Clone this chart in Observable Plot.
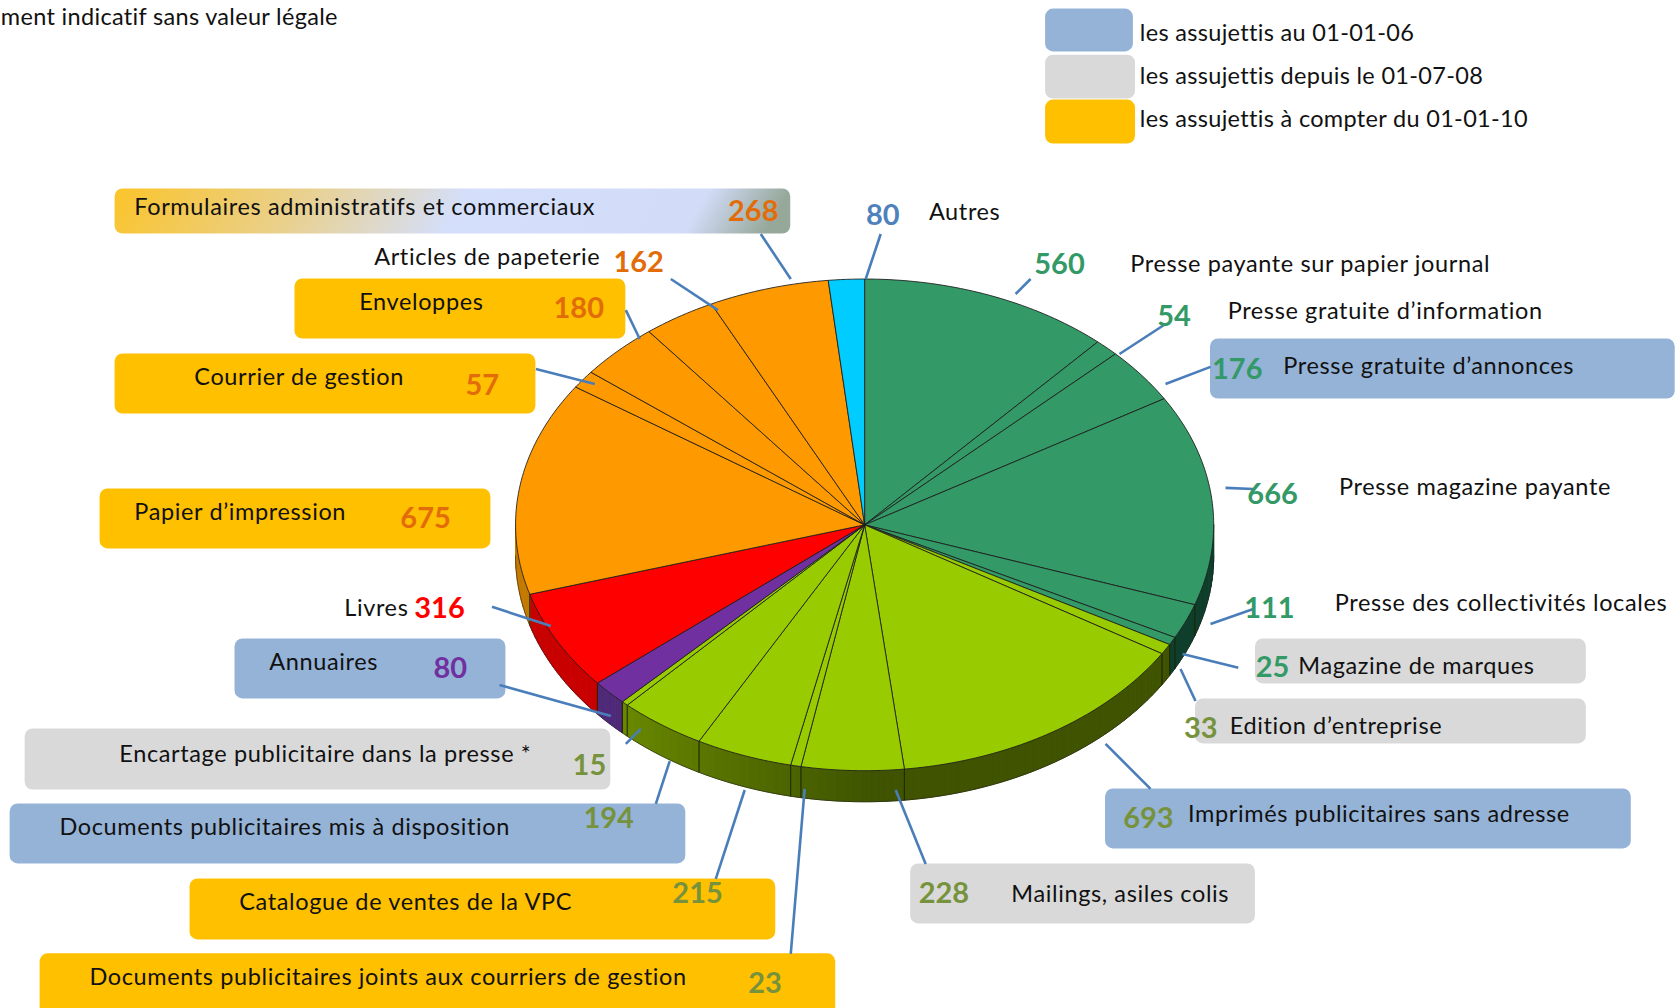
<!DOCTYPE html>
<html lang="fr">
<head>
<meta charset="utf-8">
<script src="https://cdn.jsdelivr.net/npm/d3@7"></script>
<script src="https://cdn.jsdelivr.net/npm/@observablehq/plot@0.6"></script>
<style>
html,body{margin:0;padding:0;background:#fff;overflow:hidden}
svg{display:block}
.lbl text{letter-spacing:.62px;font-variant-ligatures:none}
.lbl2 text{letter-spacing:.32px;font-variant-ligatures:none}
</style>
</head>
<body>
<div id="chart"></div>
<script>
// ---- data
const categories = [
  "Presse payante sur papier journal","Presse gratuite d’information","Presse gratuite d’annonces",
  "Presse magazine payante","Presse des collectivités locales","Magazine de marques","Edition d’entreprise",
  "Imprimés publicitaires sans adresse","Mailings, asiles colis","Documents publicitaires joints aux courriers de gestion",
  "Catalogue de ventes de la VPC","Documents publicitaires mis à disposition","Encartage publicitaire dans la presse *",
  "Annuaires","Livres","Papier d’impression","Courrier de gestion","Enveloppes","Articles de papeterie",
  "Formulaires administratifs et commerciaux","Autres"
];
const values = [560,54,176,666,111,25,33,693,228,23,215,194,15,80,316,675,57,180,162,268,80];
const families = ["teal","teal","teal","teal","teal","teal","lime","lime","lime","lime","lime","lime","lime",
  "purple","red","orange","orange","orange","orange","orange","cyan"];
const legendLabels = ["les assujettis au 01-01-06","les assujettis depuis le 01-07-08","les assujettis à compter du 01-01-10"];
const note = "ment indicatif sans valeur légale";

// ---- styles
const faceColors = {teal:"#339966",lime:"#99cc00",purple:"#7030a0",red:"#ff0000",orange:"#ff9900",cyan:"#00ccff"};
const wallColors = {teal:"#0f3f2c",purple:"#4f2a78",red:"#c80000",orange:"#c47a00",cyan:"#0090b0"};
const numColor = [
  "#339966","#339966","#339966","#339966","#339966","#339966","#76923c","#76923c","#76923c","#76923c","#76923c",
  "#76923c","#76923c","#7030a0","#ff0000","#e36c0a","#e36c0a","#e36c0a","#e36c0a","#e36c0a","#4f81bd"
];
const BLUE="#95b3d7", GREY="#d9d9d9", YEL="#ffc000";

// ---- layout (in the 1568x941 reading frame)
const pie = {cx:807, cy:489.5, rx:326, ry:229.5, depth:29};
const textPos = [[1055,246],[1146,290],[1198,342],[1250,455],[1246,563],[1212,622],[1148,678],[1109,760],[944,835],
  [83,912],[223,842],[55,772],[111,704],[251,618],[321,568],[125,478],[181,352],[335,282],[349,240],[125,193],[867,198]];
const numPos = [[989,247],[1096,295],[1155,345],[1188,461],[1185,568],[1188,623],[1121,680],[1072,764],[881,834],
  [714,918],[651,834],[568,764],[550,714],[420,624],[410,568],[397,484],[450,360],[540,288],[596,245],[703,197],[824,201]];
const boxes = [
  [107,176,738,218,"url(#formGrad)"],[275,260,584,316,YEL],[107,330,500,386,YEL],[93,456,458,512,YEL],
  [219,596,472,652,BLUE],[23,680,570,737,GREY],[9,750,640,806,BLUE],[177,820,724,877,YEL],[37,890,780,960,YEL],
  [850,806,1172,862,GREY],[1032,736,1523,792,BLUE],[1116,652,1481,694,GREY],[1172,596,1481,638,GREY],[1130,316,1564,372,BLUE],
  [976,8,1058,48,BLUE],[976,51,1060,92,GREY],[976,93,1060,134,YEL]
].map(([x1,y1,x2,y2,fill])=>({x1,y1,x2,y2,fill}));
const leaders = [
  [710,218,738,260],[626,260,670,289],[584,289,597,316],[500,344,555,358],[459,566,514,584],[466,639,570,668],
  [584,694,598,680],[612,750,625,710],[668,820,695,737],[738,890,751,736],[864,806,836,737],[1074,736,1032,694],
  [1116,654,1102,624],[1156,623,1104,610],[1130,582,1170,568],[1144,455,1170,456],[1088,358,1130,342],
  [1045,330,1088,302],[948,274,962,260],[808,260,822,218]
].map(([x1,y1,x2,y2])=>({x1,y1,x2,y2}));
const legendPos = [[1064,31],[1064,71],[1064,111]];

// ---- pie geometry from the values
const total = d3.sum(values);
const pt = (deg, dz=0) => {
  const a = deg*Math.PI/180;
  return {x: pie.cx + pie.rx*Math.sin(a), y: pie.cy - pie.ry*Math.cos(a) + dz};
};
let acc = 0;
const slices = values.map((v,i)=>{
  const a0 = acc/total*360; acc += v; const a1 = acc/total*360;
  return {i,a0,a1,family:families[i]};
});
const faces = [], walls = [], wallEdges = [];
for (const s of slices) {
  faces.push({id:s.i,x:pie.cx,y:pie.cy,c:faceColors[s.family]});
  const n = Math.max(2,Math.ceil((s.a1-s.a0)/1));
  for (let k=0;k<=n;k++) {
    const p = pt(s.a0+(s.a1-s.a0)*k/n);
    faces.push({id:s.i,x:p.x,y:p.y,c:faceColors[s.family]});
  }
  faces.push({id:s.i,x:pie.cx,y:pie.cy,c:faceColors[s.family]});
  const from = Math.max(s.a0,90), to = Math.min(s.a1,270);
  if (to>from) {
    const steps = Math.max(1,Math.ceil((to-from)/1.5));
    for (let k=0;k<steps;k++) {
      const b0 = from+(to-from)*k/steps, b1 = from+(to-from)*(k+1)/steps, mid=(b0+b1)/2;
      const col = s.family==="lime"
        ? d3.interpolateRgb("#3f5300","#6f9000")(Math.max(0,Math.min(1,(mid-178)/52)))
        : wallColors[s.family];
      const id = `${s.i}-${k}`;
      for (const [deg,dz] of [[b0,0],[b1,0],[b1,pie.depth],[b0,pie.depth],[b0,0]]) {
        const p = pt(deg,dz); walls.push({id,x:p.x,y:p.y,c:col});
      }
    }
    for (const deg of [from,to]) if (deg>90 && deg<270) {
      const a = pt(deg,0), b = pt(deg,pie.depth);
      wallEdges.push({x1:a.x,y1:a.y,x2:b.x,y2:b.y});
    }
  }
}
const rimBottom = d3.range(90,270.5,1).map(d=>pt(d,pie.depth));

// ---- marks
const gradient = () => {
  const ns="http://www.w3.org/2000/svg";
  const defs=document.createElementNS(ns,"defs");
  defs.innerHTML=`<linearGradient id="formGrad" x1="0" y1="0" x2="1" y2="0.04">
    <stop offset="0" stop-color="#fbc42a"/><stop offset="0.28" stop-color="#e9d08c"/>
    <stop offset="0.53" stop-color="#d4dffc"/><stop offset="0.88" stop-color="#d2dcf8"/>
    <stop offset="1" stop-color="#96a89a"/></linearGradient>`;
  return defs;
};
const labelFont = {fontFamily:"Lato, 'Noto Sans', sans-serif", fontSize:23.5, fill:"#111", textAnchor:"start", lineAnchor:"middle"};
const numFont = {fontFamily:"Lato, 'Noto Sans', sans-serif", fontSize:29, fontWeight:"bold", textAnchor:"middle", lineAnchor:"middle"};

const chart = Plot.plot({
  width:1679, height:1008, margin:0,
  style:{background:"#fff", overflow:"hidden"},
  x:{domain:[0,1568],range:[0,1679],axis:null},
  y:{domain:[0,941],range:[0,1008],axis:null},
  color:{type:"identity"},
  marks:[
    gradient,
    Plot.rect(boxes,{x1:"x1",x2:"x2",y1:"y1",y2:"y2",fill:"fill",rx:8}),
    Plot.line(walls,{x:"x",y:"y",z:"id",fill:"c",stroke:"c",strokeWidth:1,curve:"linear"}),
    Plot.link(wallEdges,{x1:"x1",y1:"y1",x2:"x2",y2:"y2",stroke:"#1c2600",strokeWidth:0.8,strokeOpacity:0.8}),
    Plot.line(rimBottom,{x:"x",y:"y",stroke:"#222",strokeWidth:0.8,strokeOpacity:0.7,curve:"linear"}),
    Plot.line(faces,{x:"x",y:"y",z:"id",fill:"c",stroke:"#1c1c1c",strokeWidth:1,strokeOpacity:0.85,curve:"linear"}),
    Plot.link(leaders,{x1:"x1",y1:"y1",x2:"x2",y2:"y2",stroke:"#4a7ebb",strokeWidth:2.6}),
    Plot.text(categories,{x:(d,i)=>textPos[i][0],y:(d,i)=>textPos[i][1],text:d=>d,...labelFont,className:"lbl"}),
    Plot.text(values,{x:(d,i)=>numPos[i][0],y:(d,i)=>numPos[i][1],text:d=>String(d),fill:(d,i)=>numColor[i],...numFont}),
    Plot.text(legendLabels,{x:(d,i)=>legendPos[i][0],y:(d,i)=>legendPos[i][1],text:d=>d,...labelFont,className:"lbl2"}),
    Plot.text([note],{x:[315],y:[16],text:d=>d,...labelFont,textAnchor:"end",className:"lbl2"})
  ]
});
document.getElementById("chart").appendChild(chart);
</script>
</body>
</html>
